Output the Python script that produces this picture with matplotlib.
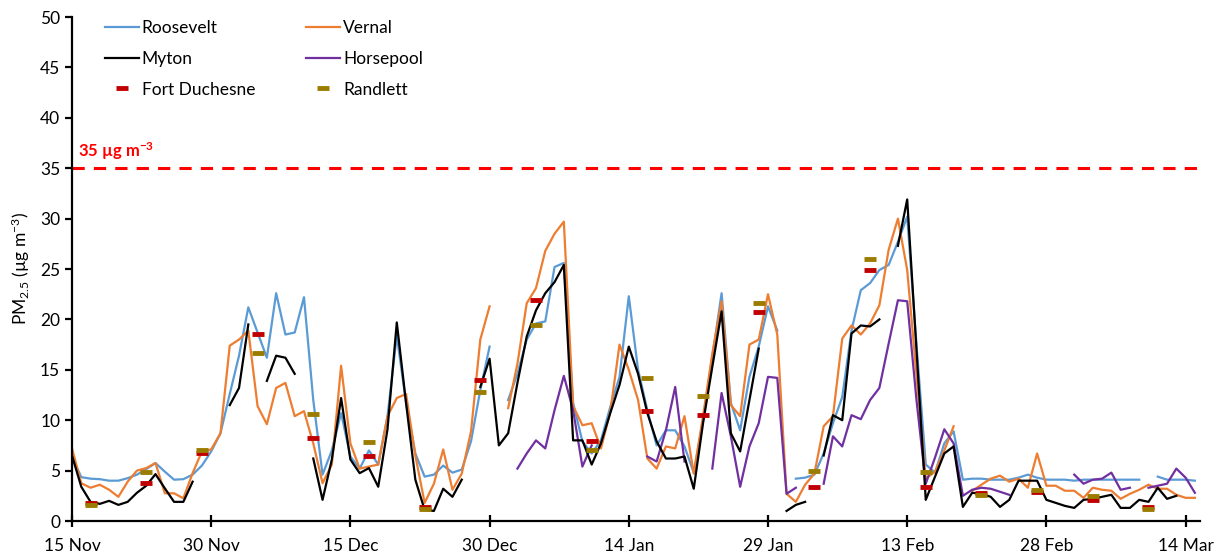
import numpy as np
import pandas as pd
import matplotlib
matplotlib.use("Agg")
import matplotlib.pyplot as plt
import matplotlib.dates as mdates

plt.rcParams['font.family'] = ['Lato', 'DejaVu Sans']
plt.rcParams['mathtext.fontset'] = 'custom'
plt.rcParams['mathtext.rm'] = 'Lato'
plt.rcParams['mathtext.it'] = 'Lato:italic'
plt.rcParams['mathtext.bf'] = 'Lato:bold'

nan = np.nan
start_date = "2015-11-15"

# daily PM2.5, one value per day from 15 Nov
roosevelt = [6.4, 4.35, 4.2, 4.15, 4.0, 4.0, 4.25, 4.6, 5.15, 5.75,
             4.9, 4.1, 4.15, 4.6, 5.5, 6.9, 8.7, 12.6, 16.4, 21.2,
             18.7, 16.2, 22.6, 18.5, 18.7, 22.2, 12.0, 4.6, 7.0, 10.7,
             6.4, 5.2, 7.0, 5.6, 10.4, 18.4, 11.7, 6.7, 4.4, 4.6,
             5.5, 4.8, 5.1, 7.9, 13.0, 17.3, nan, 12.0, 14.6, 18.0,
             19.6, 19.8, 25.2, 25.6, 11.7, 7.9, 6.7, 8.0, 11.3, 14.3,
             22.3, 15.0, 11.0, 7.5, 9.0, 9.0, 7.4, 4.8, 10.0, 16.3,
             22.6, 11.7, 9.0, 14.3, 17.3, 21.3, 18.9, nan, 4.2, 4.3,
             4.6, 6.7, 9.7, 12.3, 18.9, 22.9, 23.6, 24.9, 25.4, 27.7,
             30.2, 17.5, 5.6, 4.8, 7.7, 8.9, 4.1, 4.2, 4.2, 4.1,
             4.1, 4.1, 4.3, 4.6, 4.3, 4.1, 4.1, 4.1, 4.0, 4.1,
             4.1, 4.1, 4.1, 4.1, 4.1, 4.1, nan, 4.4, 4.1, 4.1,
             4.1, 4.0]

vernal = [7.2, 3.75, 3.3, 3.6, 3.1, 2.4, 3.9, 5.0, 5.25, 5.75,
          2.75, 2.75, 2.25, 4.75, 6.9, 7.1, 8.7, 17.4, 18.0, 18.9,
          11.4, 9.6, 13.2, 13.7, 10.4, 10.9, 7.7, 3.75, 5.6, 15.4,
          7.7, 5.2, 5.4, 5.6, 10.4, 12.2, 12.6, 6.5, 1.8, 3.7,
          7.1, 3.1, 4.7, 8.9, 18.0, 21.3, nan, 11.2, 15.6, 21.6,
          23.1, 26.8, 28.5, 29.7, 11.4, 9.5, 9.7, 7.2, 10.8, 17.5,
          15.0, 12.0, 6.2, 5.2, 7.4, 7.2, 10.4, 4.7, 10.4, 16.6,
          21.8, 11.5, 10.4, 17.5, 18.0, 22.5, 18.5, 2.7, 1.9, 3.6,
          4.7, 9.4, 10.4, 18.1, 19.4, 18.5, 19.6, 21.4, 26.9, 30.0,
          24.9, 14.5, 4.2, 4.9, 7.0, 9.4, nan, 3.0, 3.6, 4.2,
          4.5, 3.9, 4.2, 3.3, 6.7, 3.5, 3.5, 3.0, 3.0, 2.3,
          3.3, 3.1, 3.0, 2.2, 2.7, 3.1, 3.6, 3.2, 3.2, 2.6,
          2.3, 2.3]

myton = [6.5, 3.4, 1.9, 1.7, 2.0, 1.6, 1.9, 2.8, 3.5, 4.65,
         3.25, 1.9, 1.9, 3.9, nan, nan, nan, 11.5, 13.2, 19.5,
         nan, 13.9, 16.4, 16.2, 14.6, nan, 6.2, 2.1, 6.1, 12.2,
         6.1, 4.75, 5.25, 3.4, 9.1, 19.7, 11.7, 4.1, 1.1, 1.0,
         3.2, 2.4, 4.1, nan, 13.3, 16.1, 7.5, 8.7, 13.7, 18.3,
         20.9, 22.6, 23.7, 25.4, 8.0, 8.0, 5.6, 7.7, 10.7, 13.5,
         17.3, 14.6, 10.7, 7.9, 6.2, 6.2, 6.4, 3.2, 9.7, 15.3,
         20.8, 8.7, 6.9, 12.0, 17.1, nan, nan, 1.0, 1.6, 1.9,
         nan, 6.5, 10.5, 10.0, 18.6, 19.4, 19.3, 20.0, nan, 27.3,
         31.9, 17.0, 2.1, 4.4, 6.7, 7.4, 1.4, 2.8, 2.7, 2.4,
         1.4, 2.1, 4.0, 4.0, 4.0, 2.1, 1.8, 1.5, 1.3, 2.1,
         2.2, 2.4, 2.6, 1.3, 1.3, 2.1, 1.9, 3.3, 2.2, 2.5,
         nan, nan]

horsepool = [nan] * 48 + [
    5.2, 6.7,
    8.0, 7.2, 11.0, 14.4, 11.0, 5.4, 7.5, nan, nan, nan,
    nan, nan, 6.4, 5.9, 9.0, 13.3, 5.9, nan, nan, 5.2,
    12.7, 8.4, 3.4, 7.4, 9.7, 14.3, 14.2, 2.7, 3.3, nan,
    nan, 3.7, 8.4, 7.4, 10.5, 10.1, 12.0, 13.2, 17.6, 21.9,
    21.8, 12.0, 3.7, 6.3, 9.1, 7.7, 2.5, 3.1, 3.3, 3.2,
    2.9, 2.6, nan, nan, nan, nan, nan, nan, 4.6, 3.7,
    4.1, 4.2, 4.8, 3.1, 3.3, nan, 3.3, 3.5, 3.7, 5.2,
    4.3, 2.8]

# 1-in-6 day filter samples (day offset from 15 Nov)
filter_days = [2, 8, 14, 20, 26, 32, 38, 44, 50, 56,
               62, 68, 74, 80, 86, 92, 98, 104, 110, 116]
fort_duchesne = [1.8, 3.8, 6.7, 18.6, 8.2, 6.4, 1.4, 14.0, 21.9, 7.9,
                 10.9, 10.5, 20.7, 3.4, 24.9, 3.4, 2.8, 2.9, 2.1, 1.4]
randlett = [1.6, 4.9, 7.0, 16.7, 10.6, 7.8, 1.2, 12.8, 19.4, 7.0,
            14.2, 12.4, 21.6, 5.0, 26.0, 4.9, 2.6, 3.1, 2.5, 1.2]

standard = 35

dates = pd.date_range(start_date, periods=len(roosevelt), freq="D")
filter_dates = dates[filter_days]
tick_dates = pd.date_range(start_date, periods=9, freq="15D")

fig = plt.figure(figsize=(12.2, 5.58), dpi=100)
ax = fig.add_axes([0.059, 0.0663, 0.9246, 0.9032])

lw = 1.6
ax.plot(dates, roosevelt, color='#5B9BD5', lw=lw, label='Roosevelt', zorder=1.8)
ax.plot(dates, myton, color='black', lw=lw, label='Myton', zorder=2.1)
ax.plot(filter_dates, fort_duchesne, ls='none', marker='_', ms=9, mew=3.5,
        color='#C00000', label='Fort Duchesne', zorder=3)
ax.plot(dates, vernal, color='#ED7D31', lw=lw, label='Vernal', zorder=1.9)
ax.plot(dates, horsepool, color='#7030A0', lw=lw, label='Horsepool', zorder=2)
ax.plot(filter_dates, randlett, ls='none', marker='_', ms=9, mew=3.5,
        color='#9C7C00', label='Randlett', zorder=3.1)

ax.axhline(standard, color='#FF0000', lw=2.2, ls=(0, (4, 3)))
ax.text(dates[0] + pd.Timedelta(days=0.6), standard + 0.6,
        r'35 µg m$^{\mathbf{-3}}$', color='#FF0000', fontweight='bold',
        fontsize=12, ha='left', va='bottom')

ax.set_ylim(0, 50)
ax.set_yticks(np.arange(0, 51, 5))
ax.set_xlim(dates[0], dates[0] + pd.Timedelta(days=121.55))
ax.set_xticks(tick_dates)
ax.xaxis.set_major_formatter(mdates.DateFormatter('%-d %b'))

ax.set_ylabel(r'PM$_{2.5}$ (µg m$^{-3}$)', fontsize=12.5, labelpad=6)

for side in ['top', 'right']:
    ax.spines[side].set_visible(False)
for side in ['left', 'bottom']:
    ax.spines[side].set_linewidth(1.6)
ax.tick_params(axis='both', labelsize=12.5, width=1.6, length=5, direction='out')
ax.tick_params(axis='x', direction='inout', length=8, pad=8)

ax.legend(ncol=2, loc='upper left', bbox_to_anchor=(0.015, 1.025),
          frameon=False, fontsize=12.5, handlelength=2.0, handletextpad=0.15,
          labelspacing=0.85, columnspacing=2.9)

fig.savefig('out.png', dpi=100)
